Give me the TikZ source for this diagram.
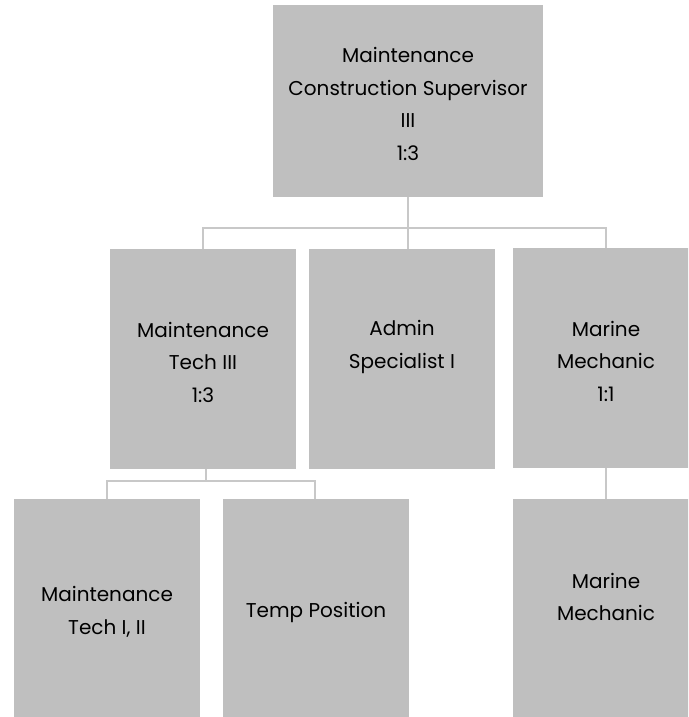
\documentclass[tikz,border=0pt]{standalone}
\usepackage{fontspec}
\setmainfont{Poppins}
\begin{document}
\begin{tikzpicture}[x=1pt,y=-1pt,
  orgbox/.style={fill=boxgray, draw=none, inner sep=0pt, outer sep=0pt},
  label/.style={align=center, font=\fontsize{20}{32.5}\selectfont, text=black},
  link/.style={draw=linkgray, line width=2pt}]
\definecolor{boxgray}{RGB}{191,191,191}
\definecolor{linkgray}{RGB}{200,200,200}
\useasboundingbox (0,0) rectangle (688,717);
\clip (0,0) rectangle (688,717);

% boxes
\node[orgbox, minimum width=270pt, minimum height=192pt] (sup) at (408,101) {};
\node[orgbox, minimum width=186pt, minimum height=220pt] (tech3) at (203,359) {};
\node[orgbox, minimum width=186pt, minimum height=220pt] (admin) at (402,359) {};
\node[orgbox, minimum width=186pt, minimum height=220pt] (marine1) at (606,358) {};
\node[orgbox, minimum width=186pt, minimum height=226pt] (tech12) at (107,612) {};
\node[orgbox, minimum width=186pt, minimum height=226pt] (temp) at (316,612) {};
\node[orgbox, minimum width=186pt, minimum height=226pt] (marine2) at (606,612) {};

% texts
\node[label] at (408,104) {Maintenance\\Construction Supervisor\\III\\1:3};
\node[label] at (203,362) {Maintenance\\Tech III\\1:3};
\node[label] at (402,347) {Admin\\Specialist I};
\node[label] at (606,361) {Marine\\Mechanic\\1:1};
\node[label] at (107,612) {Maintenance\\Tech I, II};
\node[label] at (316,612) {Temp Position};
\node[label] at (606,597) {Marine\\Mechanic};

% connectors
\coordinate (j1) at (408,228);
\coordinate (j2) at (206,481);
\draw[link] (sup.south) -- (j1);
\draw[link] (j1) -| (tech3.north -| 203,0);
\draw[link] (j1) -- (admin.north -| 408,0);
\draw[link] (j1) -| (marine1.north);
\draw[link] (tech3.south -| 206,0) -- (j2);
\draw[link] (j2) -| (tech12.north);
\draw[link] (j2) -| (temp.north -| 315,0);
\draw[link] (marine1.south) -- (marine2.north);
\end{tikzpicture}
\end{document}
